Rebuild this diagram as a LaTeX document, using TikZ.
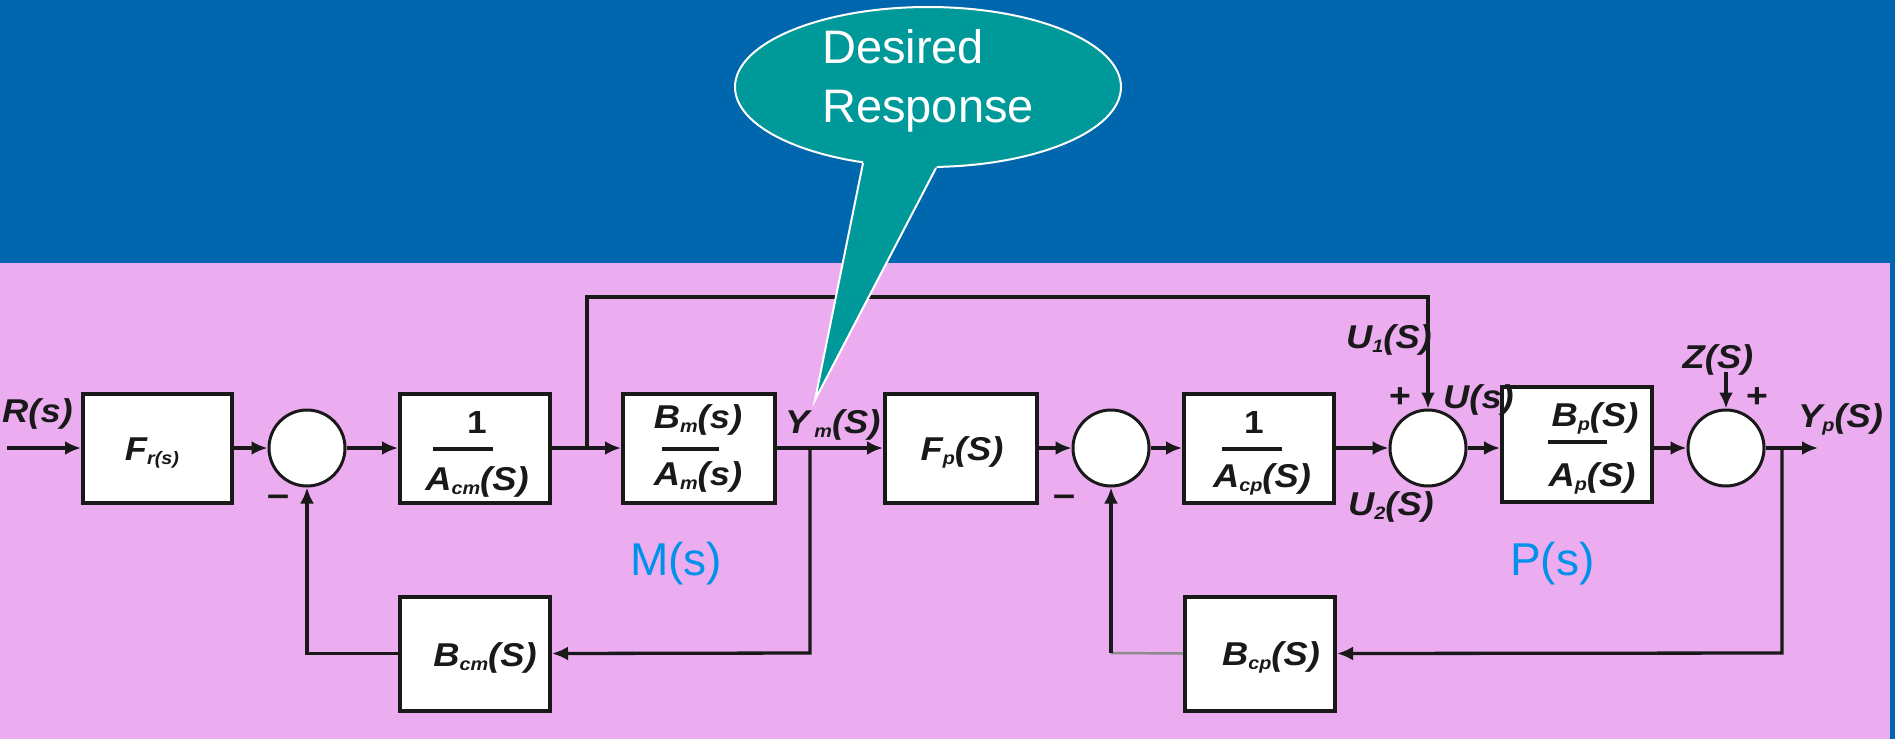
\documentclass[tikz,border=0pt]{standalone}
\usepackage{fontspec}
\setmainfont{Liberation Sans}
\newfontfamily\labf[FakeStretch=1.1]{Liberation Sans}
\usetikzlibrary{arrows.meta,shapes.geometric,calc}
\definecolor{bgblue}{RGB}{0,102,174}
\definecolor{bgpink}{RGB}{236,173,240}
\definecolor{bubteal}{RGB}{0,153,153}
\definecolor{lblblue}{RGB}{0,145,232}
\newcommand\lsub[1]{\raisebox{-0.25ex}{\fontsize{18}{18}\selectfont #1}}
\begin{document}
\begin{tikzpicture}[x=1pt,y=-1pt,
  blk/.style={draw=black!90,fill=white,line width=4pt,minimum width=150pt,minimum height=109pt,inner sep=0pt},
  sumc/.style={circle,draw=black!90,fill=white,line width=3pt,minimum size=76pt,inner sep=0pt},
  arr/.style={line width=3.3pt,draw=black!90,-{Latex[length=16pt,width=14pt]}},
  bar/.style={line width=3.3pt,draw=black!90},
  lbl/.style={font=\labf\bfseries\itshape\fontsize{33}{33}\selectfont,inner sep=0pt,text=black!90},
  num/.style={font=\labf\bfseries\fontsize{32}{32}\selectfont,inner sep=0pt,text=black!90},
  tag/.style={font=\fontsize{46}{46}\selectfont,text=lblblue,inner sep=0pt},
  bubtxt/.style={font=\fontsize{47}{58}\selectfont,text=white,inner sep=0pt}]
\useasboundingbox (0,0) rectangle (1895,739);
\fill[bgblue] (0,0) rectangle (1895,739);
\fill[bgpink] (0,263) rectangle (1890,739);

% blocks
\node[blk,minimum width=149pt] (fr) at (157.5,448) {};
\node[blk] (acm) at (475,448) {};
\node[blk,minimum width=152pt] (bm) at (699,448) {};
\node[blk,minimum width=152pt] (fp) at (961,448) {};
\node[blk] (acp) at (1259,448) {};
\node[blk,minimum height=115pt] (bp) at (1577,444.5) {};
\node[blk,minimum height=114pt] (bcm) at (475,653.5) {};
\node[blk,minimum height=114pt] (bcp) at (1260,653.5) {};

% summing junctions
\node[sumc] (s1) at (307,448) {};
\node[sumc] (s2) at (1111,448) {};
\node[sumc] (s3) at (1428,448) {};
\node[sumc] (s4) at (1726,448) {};

% coordinates
\coordinate (rin) at (7,448);
\coordinate (yout) at (1818,448);
\coordinate (b1) at (587,448);
\coordinate (top) at (587,297);
\coordinate (b2) at (810,448);
\coordinate (b2d) at (810,653);
\coordinate (b3) at (1782,448);
\coordinate (b3d) at (1782,653);
\coordinate (zin) at (1726,372);
\coordinate (c2) at (1111,653);

% connectors
\draw[arr] (rin) -- (fr);
\draw[arr] (fr) -- (s1);
\draw[arr] (s1) -- (acm);
\draw[arr] (acm) -- (bm);
\draw[arr] (bm) -- (fp);
\draw[arr] (fp) -- (s2);
\draw[arr] (s2) -- (acp);
\draw[arr] (acp) -- (s3);
\draw[arr] (s3.east) -- (s3.east -| bp.west);
\draw[arr] (bp.east |- s4.west) -- (s4.west);
\draw[arr] (s4) -- (yout);
\draw[arr] (b1) -- (top) -| (s3.north);
\draw[arr] (b2) -- (b2d) -- (bcm.east);
\draw[arr] (bcm.west) -| (s1.south);
\draw[arr] (b3) -- (b3d) -- (bcp.east);
\draw[line width=2.5pt,draw=black!45] (bcp.west) -- (c2);
\draw[arr] (c2) -- (s2.south);
\draw[arr] (zin) -- (s4.north);

% block texts
\node[lbl,anchor=base] (frt) at (152,460) {F\lsub{r(s)}};
\node[num,anchor=base] (acm1) at (477,433) {1};
\draw[bar] (433,449) -- (493,449);
\node[lbl,anchor=base] (acm2) at (477,490) {A\lsub{cm}(S)};
\node[lbl,anchor=base] (bm1) at (698,428) {B\lsub{m}(s)};
\draw[bar] (662,449) -- (719,449);
\node[lbl,anchor=base] (bm2) at (698,485) {A\lsub{m}(s)};
\node[lbl,anchor=base] (fpt) at (962,460) {F\lsub{p}(S)};
\node[num,anchor=base] (acp1) at (1254,433) {1};
\draw[bar] (1222,449) -- (1282,449);
\node[lbl,anchor=base] (acp2) at (1262,487) {A\lsub{cp}(S)};
\node[lbl,anchor=base] (bp1) at (1595,426) {B\lsub{p}(S)};
\draw[bar] (1548,442) -- (1607,442);
\node[lbl,anchor=base] (bp2) at (1592,486) {A\lsub{p}(S)};
\node[lbl,anchor=base] (bcmt) at (485,666) {B\lsub{cm}(S)};
\node[lbl,anchor=base] (bcpt) at (1271,665) {B\lsub{cp}(S)};

% signal labels
\node[lbl,anchor=base east] (rl) at (73,422) {R(s)};
\node[lbl,anchor=base west] (yml) at (785,433) {Y\hspace{5pt}\lsub{m}(S)};
\node[lbl,anchor=base west] (u1l) at (1346,348) {U\lsub{1}(S)};
\node[lbl,anchor=base west] (ul) at (1443,408) {U(s)};
\node[lbl,anchor=base west] (u2l) at (1348,515) {U\lsub{2}(S)};
\node[lbl,anchor=base] (zl) at (1718,368) {Z(S)};
\node[lbl,anchor=base west] (ypl) at (1798,427) {Y\lsub{p}(S)};
\node[num,font=\labf\bfseries\fontsize{34}{34}\selectfont] (p3) at (1400,398) {+};
\node[num,font=\labf\bfseries\fontsize{34}{34}\selectfont] (p4) at (1757,398) {+};
\node[num,font=\labf\bfseries\fontsize{36}{36}\selectfont] (m1) at (279,501) {–};
\node[num,font=\labf\bfseries\fontsize{36}{36}\selectfont] (m2) at (1064,501) {–};
\node[tag,anchor=base west] (ms) at (630,575) {M(s)};
\node[tag,anchor=base west] (ps) at (1510,575) {P(s)};

% callout
\node[ellipse,fill=bubteal,draw=white,line width=2pt,minimum width=386pt,minimum height=160pt,inner sep=0pt] (bubble) at (928,87) {};
\coordinate (tip) at (815,400);
\coordinate (tl) at (863,163);
\coordinate (tr) at (936,168);
\fill[bubteal] (tip) -- (867.7,140) -- (950.6,140) -- cycle;
\draw[white,line width=2pt] (tl) -- (tip) -- (tr);
\node[bubtxt,anchor=base west] (d1) at (822,63) {Desired};
\node[bubtxt,anchor=base west] (d2) at (822,122) {Response};
\end{tikzpicture}
\end{document}
